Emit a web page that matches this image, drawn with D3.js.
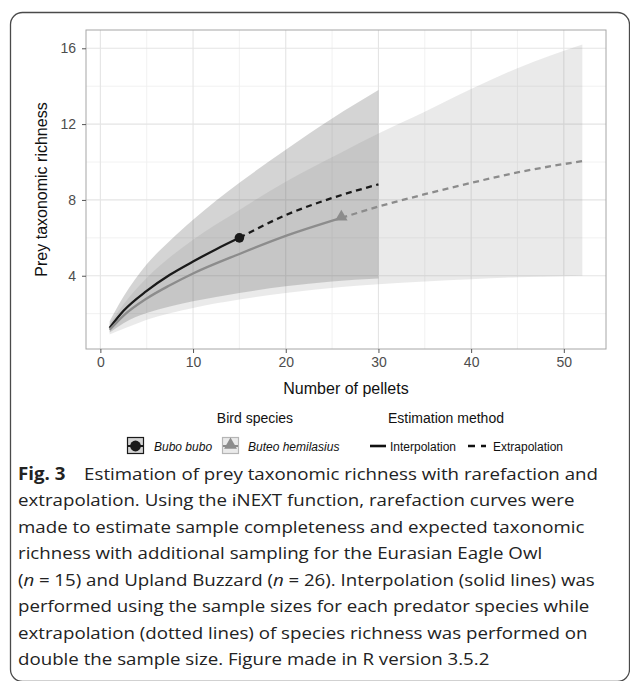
<!DOCTYPE html>
<html>
<head>
<meta charset="utf-8">
<script src="https://cdn.jsdelivr.net/npm/d3@7"></script>
<style>
  body { margin: 0; background: #fff; }
  svg { display: block; }
</style>
</head>
<body>
<svg id="chart"></svg>
<script>
// ---- data ----
const xTicks = [0, 10, 20, 30, 40, 50];
const xMinor = [5, 15, 25, 35, 45];
const yTicks = [4, 8, 12, 16];
const yMinor = [2, 6, 10, 14];

const speciesNames = ['Bubo bubo', 'Buteo hemilasius'];
const methodNames = ['Interpolation', 'Extrapolation'];

// Bubo bubo (Eurasian Eagle Owl, n = 15)
const buboInterpX = [1, 2.5, 5, 7.5, 10, 12.5, 15];
const buboInterpY = [1.25, 2.15, 3.2, 4.05, 4.75, 5.4, 6.0];
const buboExtrapX = [15, 20, 25, 30];
const buboExtrapY = [6.0, 7.2, 8.1, 8.82];
const buboBandX = [1, 2.5, 5, 7.5, 10, 15, 20, 25, 30];
const buboUpper = [1.6, 2.9, 4.6, 5.85, 6.95, 8.9, 10.65, 12.3, 13.8];
const buboLower = [1.0, 1.5, 2.03, 2.38, 2.65, 3.09, 3.44, 3.7, 3.85];
const buboObs = [15, 6.0];

// Buteo hemilasius (Upland Buzzard, n = 26)
const buteoInterpX = [1, 2.5, 5, 7.5, 10, 15, 20, 26];
const buteoInterpY = [1.15, 1.9, 2.8, 3.5, 4.12, 5.15, 6.1, 7.05];
const buteoExtrapX = [26, 30, 35, 40, 45, 52];
const buteoExtrapY = [7.05, 7.65, 8.3, 8.9, 9.45, 10.05];
const buteoBandX = [1, 2.5, 5, 10, 15, 20, 26, 30, 35, 40, 45, 52];
const buteoUpper = [1.45, 2.5, 3.88, 5.9, 7.47, 8.96, 10.5, 11.5, 12.65, 13.85, 14.95, 16.2];
const buteoLower = [0.9, 1.2, 1.68, 2.3, 2.74, 3.09, 3.4, 3.55, 3.7, 3.82, 3.92, 4.0];
const buteoObs = [26, 7.05];

const captionLines = [
  'extrapolation. Using the iNEXT function, rarefaction curves were',
  'made to estimate sample completeness and expected taxonomic',
  'richness with additional sampling for the Eurasian Eagle Owl',
  null, // line with italic n, built below
  'performed using the sample sizes for each predator species while',
  'extrapolation (dotted lines) of species richness was performed on',
  'double the sample size. Figure made in R version 3.5.2'
];

// ---- layout ----
const width = 630, height = 681;
const panel = { left: 86, right: 606, top: 30, bottom: 349 };
const sans = "'Liberation Sans', Arial, sans-serif";
const capFont = "'Open Sans', 'Noto Sans', sans-serif";

const colBubo = '#1a1a1a';
const colButeo = '#8c8c8c';

const svg = d3.select('#chart').attr('width', width).attr('height', height);

// frame round the whole figure
svg.append('rect')
  .attr('x', 10.5).attr('y', 12.5)
  .attr('width', 619).attr('height', 669)
  .attr('rx', 12)
  .attr('fill', 'none')
  .attr('stroke', '#4a4a4a')
  .attr('stroke-width', 1.3);

// scales with ggplot's 5% expansion
const allX = [...buboBandX, ...buteoBandX];
const allY = [...buboUpper, ...buboLower, ...buteoUpper, ...buteoLower];
const expand = (ext) => {
  const pad = (ext[1] - ext[0]) * 0.05;
  return [ext[0] - pad, ext[1] + pad];
};
const x = d3.scaleLinear().domain(expand(d3.extent(allX))).range([panel.left, panel.right]);
const y = d3.scaleLinear().domain(expand(d3.extent(allY))).range([panel.bottom, panel.top]);

// grid
const grid = svg.append('g');
grid.selectAll('line.xmin').data(xMinor).join('line')
  .attr('x1', d => x(d)).attr('x2', d => x(d))
  .attr('y1', panel.top).attr('y2', panel.bottom)
  .attr('stroke', '#efefef').attr('stroke-width', 0.9);
grid.selectAll('line.ymin').data(yMinor).join('line')
  .attr('x1', panel.left).attr('x2', panel.right)
  .attr('y1', d => y(d)).attr('y2', d => y(d))
  .attr('stroke', '#efefef').attr('stroke-width', 0.9);
grid.selectAll('line.xmaj').data(xTicks).join('line')
  .attr('x1', d => x(d)).attr('x2', d => x(d))
  .attr('y1', panel.top).attr('y2', panel.bottom)
  .attr('stroke', '#e4e4e4').attr('stroke-width', 1.1);
grid.selectAll('line.ymaj').data(yTicks).join('line')
  .attr('x1', panel.left).attr('x2', panel.right)
  .attr('y1', d => y(d)).attr('y2', d => y(d))
  .attr('stroke', '#e4e4e4').attr('stroke-width', 1.1);

// confidence bands
const band = (xs, lo, hi) => d3.area()
  .x((d, i) => x(xs[i]))
  .y0((d, i) => y(lo[i]))
  .y1((d, i) => y(hi[i]))
  .curve(d3.curveMonotoneX)(xs);

svg.append('path')
  .attr('d', band(buboBandX, buboLower, buboUpper))
  .attr('fill', '#000').attr('fill-opacity', 0.17);
svg.append('path')
  .attr('d', band(buteoBandX, buteoLower, buteoUpper))
  .attr('fill', colButeo).attr('fill-opacity', 0.18);

// curves
const curve = (xs, ys) => d3.line()
  .x((d, i) => x(xs[i]))
  .y((d, i) => y(ys[i]))
  .curve(d3.curveMonotoneX)(xs);

const lines = [
  { xs: buboInterpX, ys: buboInterpY, col: colBubo, dash: null },
  { xs: buboExtrapX, ys: buboExtrapY, col: colBubo, dash: '6,4.5' },
  { xs: buteoInterpX, ys: buteoInterpY, col: colButeo, dash: null },
  { xs: buteoExtrapX, ys: buteoExtrapY, col: colButeo, dash: '6,4.5' }
];
svg.selectAll('path.curve').data(lines).join('path')
  .attr('class', 'curve')
  .attr('d', d => curve(d.xs, d.ys))
  .attr('fill', 'none')
  .attr('stroke', d => d.col)
  .attr('stroke-width', 2.3)
  .attr('stroke-dasharray', d => d.dash);

// observed points
svg.append('circle')
  .attr('cx', x(buboObs[0])).attr('cy', y(buboObs[1]))
  .attr('r', 4.8).attr('fill', colBubo);
svg.append('path')
  .attr('d', d3.symbol(d3.symbolTriangle, 66)())
  .attr('transform', `translate(${x(buteoObs[0])},${y(buteoObs[1]) - 1})`)
  .attr('fill', colButeo);

// panel border
svg.append('rect')
  .attr('x', panel.left).attr('y', panel.top)
  .attr('width', panel.right - panel.left).attr('height', panel.bottom - panel.top)
  .attr('fill', 'none').attr('stroke', '#a6a6a6').attr('stroke-width', 1);

// axes
const xAxis = svg.append('g')
  .attr('transform', `translate(0,${panel.bottom})`)
  .call(d3.axisBottom(x).tickValues(xTicks).tickSize(4).tickSizeOuter(0).tickPadding(4));
const yAxis = svg.append('g')
  .attr('transform', `translate(${panel.left},0)`)
  .call(d3.axisLeft(y).tickValues(yTicks).tickSize(4).tickSizeOuter(0).tickPadding(6));
[xAxis, yAxis].forEach(g => {
  g.select('.domain').remove();
  g.selectAll('.tick line').attr('stroke', '#555');
  g.selectAll('.tick text')
    .attr('fill', '#4d4d4d')
    .style('font-family', sans)
    .style('font-size', '14px');
});

// axis titles
svg.append('text')
  .attr('x', (panel.left + panel.right) / 2).attr('y', 394)
  .attr('text-anchor', 'middle')
  .style('font-family', sans).style('font-size', '16px')
  .attr('fill', '#111')
  .text('Number of pellets');
svg.append('text')
  .attr('transform', `translate(47,${(panel.top + panel.bottom) / 2}) rotate(-90)`)
  .attr('text-anchor', 'middle')
  .style('font-family', sans).style('font-size', '16px')
  .attr('fill', '#111')
  .text('Prey taxonomic richness');

// legend
const legY = 446;
const leg = svg.append('g').style('font-family', sans).attr('fill', '#111');
leg.append('text').attr('x', 255).attr('y', 423).attr('text-anchor', 'middle')
  .style('font-size', '14px').text('Bird species');
leg.append('text').attr('x', 446).attr('y', 423).attr('text-anchor', 'middle')
  .style('font-size', '14px').text('Estimation method');

const speciesKeys = [
  { x0: 127, fill: '#d4d4d4', stroke: colBubo, col: colBubo, shape: 'circle', tx: 154 },
  { x0: 222, fill: '#eaeaea', stroke: '#b5b5b5', col: colButeo, shape: 'triangle', tx: 248 }
];
speciesKeys.forEach((k, i) => {
  leg.append('rect')
    .attr('x', k.x0 + 0.5).attr('y', legY - 8.5).attr('width', 16).attr('height', 16)
    .attr('fill', k.fill).attr('stroke', k.stroke).attr('stroke-width', 1.2);
  leg.append('line')
    .attr('x1', k.x0 + 1).attr('x2', k.x0 + 16).attr('y1', legY).attr('y2', legY)
    .attr('stroke', k.col).attr('stroke-width', 2);
  if (k.shape === 'circle') {
    leg.append('circle').attr('cx', k.x0 + 8.5).attr('cy', legY).attr('r', 5.4).attr('fill', k.col);
  } else {
    leg.append('path').attr('d', d3.symbol(d3.symbolTriangle, 72)())
      .attr('transform', `translate(${k.x0 + 8.5},${legY - 1})`).attr('fill', k.col);
  }
  leg.append('text').attr('x', k.tx).attr('y', legY + 4.5)
    .style('font-size', '12px').style('font-style', 'italic')
    .text(speciesNames[i]);
});

const methodKeys = [
  { x1: 370, x2: 386, dash: null, tx: 390 },
  { x1: 468, x2: 486, dash: '7,6', tx: 493 }
];
methodKeys.forEach((k, i) => {
  leg.append('line')
    .attr('x1', k.x1).attr('x2', k.x2).attr('y1', legY).attr('y2', legY)
    .attr('stroke', '#111').attr('stroke-width', 2.6)
    .attr('stroke-dasharray', k.dash);
  leg.append('text').attr('x', k.tx).attr('y', legY + 4.5)
    .style('font-size', '12px').text(methodNames[i]);
});

// caption
const capX = 18, capY0 = 480, capStep = 26.5;
const cap = svg.append('g')
  .style('font-family', capFont).style('font-size', '17px').attr('fill', '#222');

const first = cap.append('text').attr('x', capX).attr('y', capY0);
first.append('tspan').style('font-weight', 700).text('Fig. 3');
first.append('tspan').text('\u2003Estimation of prey taxonomic richness with rarefaction and');

const capTexts = captionLines.map((line, i) => {
  const t = cap.append('text').attr('x', capX).attr('y', capY0 + capStep * (i + 1));
  if (line !== null) {
    t.text(line);
  } else {
    t.append('tspan').text('(');
    t.append('tspan').style('font-style', 'italic').text('n');
    t.append('tspan').text('\u2005=\u200515) and Upland Buzzard (');
    t.append('tspan').style('font-style', 'italic').text('n');
    t.append('tspan').text('\u2005=\u200526). Interpolation (solid lines) was');
  }
  return t;
});

// squeeze the caption sideways so the "while" line ends where it does in the original
const k = 572 / capTexts[4].node().getComputedTextLength();
cap.attr('transform', `translate(${capX * (1 - k)},0) scale(${k},1)`);
</script>
</body>
</html>
